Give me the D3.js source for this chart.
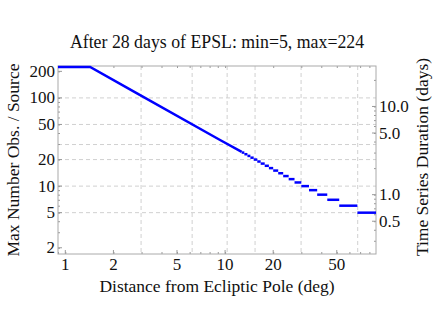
<!DOCTYPE html>
<html>
<head>
<meta charset="utf-8">
<script src="https://cdn.jsdelivr.net/npm/d3@7"></script>
<style>
  body { margin: 0; background: #fff; }
  text { font-family: "Liberation Serif", "DejaVu Serif", serif; fill: #111; }
</style>
</head>
<body>
<div id="myPlot"></div>
<script>
// values
const title = "After 28 days of EPSL: min=5, max=224";
const obsPerDay = 224 / 28;

// smooth part of the curve (distance in deg, max obs)
const curveDist = [0.9, 1.43, 2.74, 9.3, 12.7];
const curveObs = [224, 224, 115.7, 33.3, 24.4];

// stair part: each integer count holds over a distance range
const stepObs  = [24, 23, 22, 21, 20, 19, 18, 17, 16, 15, 14, 13, 12, 11, 10, 9, 8, 7, 6, 5];
const stepFrom = [12.7, 13.2, 13.8, 14.4, 15.1, 15.9, 16.7, 17.7, 18.8, 20.0, 21.5, 23.1, 25.0, 27.2, 30.0, 33.5, 37.7, 43.6, 51.8, 67.3];
const stepTo   = [13.2, 13.8, 14.4, 15.1, 15.9, 16.7, 17.7, 18.8, 20.0, 21.5, 23.1, 25.0, 27.2, 30.0, 33.5, 37.7, 43.6, 51.8, 67.3, 88];

const xTicks = [1, 2, 5, 10, 20, 50];
const yTicks = [2, 5, 10, 20, 50, 100, 200];
const rTicks = [0.5, 1.0, 5.0, 10.0];
const xGrid = [2.98, 6.22, 10.3, 15.4, 29.9, 67.6];
const yGrid = [5, 10, 20, 29.6, 50, 100];

const width = 434, height = 312;
const mLeft = 58, mRight = 376, mTop = 66, mBottom = 254;

const svg = d3.select("#myPlot").append("svg")
  .attr("width", width).attr("height", height);

const x = d3.scaleLog().domain([0.9, 88]).range([mLeft, mRight]);
const y = d3.scaleLog().domain([1.7, 230]).range([mBottom, mTop]);
const yR = d3.scaleLog().domain([1.7 / obsPerDay, 230 / obsPerDay]).range([mBottom, mTop]);

// grid
const grid = svg.append("g").attr("stroke", "#d0d0d0").attr("stroke-dasharray", "4,3").attr("stroke-width", 1);
grid.selectAll(".gx").data(xGrid).enter().append("line")
  .attr("x1", d => x(d)).attr("x2", d => x(d)).attr("y1", mTop).attr("y2", mBottom);
grid.selectAll(".gy").data(yGrid).enter().append("line")
  .attr("y1", d => y(d)).attr("y2", d => y(d)).attr("x1", mLeft).attr("x2", mRight);

// minor tick values
function minors(lo, hi) {
  const out = [];
  for (let p = Math.floor(Math.log10(lo)); p <= Math.ceil(Math.log10(hi)); p++) {
    for (let m = 1; m < 10; m++) {
      const v = m * Math.pow(10, p);
      if (v >= lo && v <= hi) out.push(v);
    }
  }
  return out;
}

// frame ticks, pointing inwards
const tickCol = "#999";
const bot = svg.append("g").attr("transform", "translate(0," + mBottom + ")");
bot.call(d3.axisTop(x).tickValues(minors(0.9, 88)).tickSize(2).tickFormat(""));
const topAx = svg.append("g").attr("transform", "translate(0," + mTop + ")");
topAx.call(d3.axisBottom(x).tickValues(minors(0.9, 88)).tickSize(2).tickFormat(""));
const lAx = svg.append("g").attr("transform", "translate(" + mLeft + ",0)");
lAx.call(d3.axisRight(y).tickValues(minors(1.7, 230)).tickSize(2).tickFormat(""));
const rAx = svg.append("g").attr("transform", "translate(" + mRight + ",0)");
rAx.call(d3.axisLeft(yR).tickValues(minors(1.7 / obsPerDay, 230 / obsPerDay)).tickSize(2).tickFormat(""));
[bot, topAx, lAx, rAx].forEach(g => {
  g.select(".domain").remove();
  g.selectAll("line").attr("stroke", tickCol);
});
// longer ticks at labelled values
svg.append("g").selectAll("line").data(xTicks).enter().append("line")
  .attr("x1", d => x(d)).attr("x2", d => x(d)).attr("y1", mBottom).attr("y2", mBottom - 4).attr("stroke", tickCol);
svg.append("g").selectAll("line").data(yTicks).enter().append("line")
  .attr("y1", d => y(d)).attr("y2", d => y(d)).attr("x1", mLeft).attr("x2", mLeft + 4).attr("stroke", tickCol);
svg.append("g").selectAll("line").data(rTicks).enter().append("line")
  .attr("y1", d => yR(d)).attr("y2", d => yR(d)).attr("x1", mRight).attr("x2", mRight - 4).attr("stroke", tickCol);

// frame
svg.append("rect").attr("x", mLeft).attr("y", mTop)
  .attr("width", mRight - mLeft).attr("height", mBottom - mTop)
  .attr("fill", "none").attr("stroke", "#aaa").attr("stroke-width", 1);

// tick labels
svg.append("g").selectAll("text").data(xTicks).enter().append("text")
  .attr("x", d => x(d)).attr("y", 270).attr("text-anchor", "middle")
  .attr("font-size", 17).text(d => d);
svg.append("g").selectAll("text").data(yTicks).enter().append("text")
  .attr("x", 55).attr("y", d => y(d) + 5.5).attr("text-anchor", "end")
  .attr("font-size", 17).text(d => d);
svg.append("g").selectAll("text").data(rTicks).enter().append("text")
  .attr("x", 379).attr("y", d => yR(d) + 5.5).attr("text-anchor", "start")
  .attr("font-size", 17).text(d => d3.format(".1f")(d));

// titles
svg.append("text").attr("x", 217).attr("y", 48).attr("text-anchor", "middle")
  .attr("font-size", 17.8).text(title);
svg.append("text").attr("x", 217).attr("y", 292).attr("text-anchor", "middle")
  .attr("font-size", 17.5).text("Distance from Ecliptic Pole (deg)");
svg.append("text").attr("transform", "translate(19,160) rotate(-90)")
  .attr("text-anchor", "middle").attr("font-size", 17.5).text("Max Number Obs. / Source");
svg.append("text").attr("transform", "translate(428,157) rotate(-90)")
  .attr("text-anchor", "middle").attr("font-size", 17.5).text("Time Series Duration (days)");

// curve
const plot = svg.append("g");
const curve = curveDist.map((d, i) => [d, curveObs[i]]);
plot.append("path").datum(curve)
  .attr("d", d3.line().x(d => x(d[0])).y(d => y(d[1])))
  .attr("fill", "none").attr("stroke", "#0000ff").attr("stroke-width", 2.5);
plot.selectAll(".step").data(stepObs).enter().append("line")
  .attr("x1", (d, i) => x(stepFrom[i])).attr("x2", (d, i) => x(stepTo[i]))
  .attr("y1", d => y(d)).attr("y2", d => y(d))
  .attr("stroke", "#0000ff").attr("stroke-width", 2.5);
</script>
</body>
</html>
